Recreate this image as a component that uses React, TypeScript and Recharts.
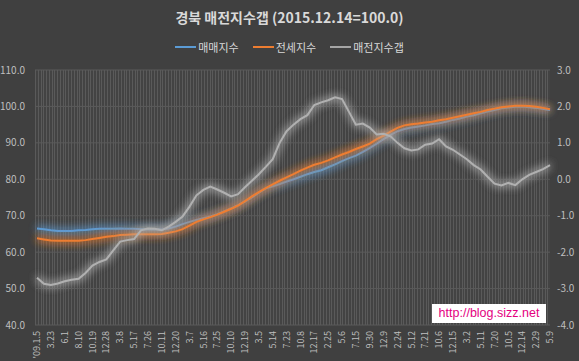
import { LineChart, Line, XAxis, YAxis, CartesianGrid } from "recharts";

// 주간 지수, 약 5주 간격으로 읽은 값
const xLabels = [
  "'09.1.5", "3.23", "6.1", "8.10", "10.19", "12.28", "3.8", "5.17", "7.26", "10.11",
  "12.20", "3.7", "5.16", "7.25", "10.10", "12.19", "3.5", "5.14", "7.23", "10.8",
  "12.17", "2.25", "5.6", "7.15", "9.30", "12.9", "2.24", "5.12", "7.21", "10.6",
  "12.15", "3.2", "5.11", "7.20", "10.5", "12.14", "2.29", "5.9",
];

const saleIndex = [
  66.5, 66.3, 66.0, 65.8, 65.8, 65.8, 66.0, 66.1, 66.3, 66.4,
  66.4, 66.4, 66.5, 66.4, 66.4, 66.3, 66.2, 66.2, 66.2, 66.5,
  67.0, 67.7, 68.3, 68.8, 69.3, 69.8, 70.4, 71.2, 72.0, 72.9,
  73.9, 75.0, 76.3, 77.5, 78.1, 78.7, 79.4, 80.0, 80.7, 81.4,
  82.0, 82.5, 83.3, 84.1, 85.0, 85.8, 86.5, 87.5, 88.6, 89.8,
  91.0, 92.2, 93.2, 93.8, 94.2, 94.5, 94.8, 95.2, 95.4, 95.8,
  96.3, 96.7, 97.2, 97.6, 98.1, 98.6, 99.0, 99.5, 99.7, 99.9,
  100.0, 99.8, 99.6, 99.3, 99.0,
];

const jeonseIndex = [
  63.8, 63.5, 63.2, 63.1, 63.1, 63.1, 63.1, 63.3, 63.6, 63.9,
  64.2, 64.4, 64.7, 64.8, 64.9, 64.9, 64.9, 64.9, 65.0, 65.3,
  65.7, 66.3, 67.3, 68.3, 69.0, 69.6, 70.3, 71.1, 71.9, 72.8,
  74.0, 75.3, 76.5, 77.6, 78.6, 79.6, 80.5, 81.4, 82.4, 83.2,
  84.0, 84.5, 85.2, 86.0, 86.8, 87.5, 88.3, 89.0, 89.8, 91.0,
  92.0, 93.1, 94.1, 94.8, 95.1, 95.3, 95.6, 95.8, 96.2, 96.5,
  96.9, 97.3, 97.7, 98.1, 98.5, 99.0, 99.4, 99.8, 100.0, 100.2,
  100.2, 100.1, 99.9, 99.6, 99.2,
];

const gapIndex = [
  -2.7, -2.87, -2.9, -2.86, -2.8, -2.76, -2.73, -2.57, -2.37, -2.27,
  -2.2, -1.95, -1.71, -1.67, -1.64, -1.4, -1.35, -1.36, -1.4, -1.3,
  -1.17, -1.02, -0.75, -0.44, -0.29, -0.2, -0.28, -0.37, -0.47, -0.41,
  -0.22, -0.04, 0.14, 0.34, 0.55, 1.0, 1.32, 1.5, 1.65, 1.76,
  2.04, 2.11, 2.17, 2.25, 2.2, 1.85, 1.5, 1.53, 1.42, 1.23,
  1.25, 1.18, 1.0, 0.85, 0.79, 0.82, 0.95, 0.98, 1.1, 0.9,
  0.81, 0.68, 0.55, 0.39, 0.27, 0.07, -0.12, -0.17, -0.1, -0.16,
  0.0, 0.12, 0.2, 0.28, 0.39,
];

const leftTicks = [40, 50, 60, 70, 80, 90, 100, 110];
const rightTicks = [-4, -3, -2, -1, 0, 1, 2, 3];

const data = saleIndex.map((v, i) => ({
  i,
  sale: v,
  jeonse: jeonseIndex[i],
  gap: gapIndex[i],
}));

const legendItems = [
  { name: "매매지수", color: "#5b9bd5" },
  { name: "전세지수", color: "#ed7d31" },
  { name: "매전지수갭", color: "#a5a5a5" },
];

// 세로 격자 (엑셀식 촘촘한 눈금선)
const gridX: number[] = [];
for (let x = 35; x <= 550; x += 2.77) gridX.push(Math.round(x) + 0.5);

const XTick = ({ x, y, payload }: any) => (
  <g transform={`translate(${x},${y})`}>
    <text transform="rotate(-90)" textAnchor="end" dy="0.35em" fill="#bfbfbf" fontSize={9}>
      {xLabels[payload.value / 2]}
    </text>
  </g>
);

export default function App() {
  return (
    <div
      style={{
        position: "absolute",
        left: 0,
        top: 0,
        width: 579,
        height: 361,
        background: "#404040",
        fontFamily: "'Noto Sans CJK KR', 'Noto Sans', sans-serif",
      }}
    >
      <svg width={1} height={1} style={{ position: "absolute", left: 0, top: 0 }}>
        <defs>
          <filter id="glow" x="-50%" y="-50%" width="200%" height="200%">
            <feGaussianBlur in="SourceGraphic" stdDeviation="4.5" result="b" />
            <feComponentTransfer in="b" result="b2">
              <feFuncA type="linear" slope="2.4" />
            </feComponentTransfer>
            <feMerge>
              <feMergeNode in="b2" />
              <feMergeNode in="SourceGraphic" />
            </feMerge>
          </filter>
        </defs>
      </svg>
      <div
        style={{
          position: "absolute",
          top: 7,
          width: "100%",
          textAlign: "center",
          color: "#d9d9d9",
          fontSize: 14,
          fontWeight: 700,
        }}
      >
        경북 매전지수갭 (2015.12.14=100.0)
      </div>
      <div
        style={{
          position: "absolute",
          top: 39,
          width: "100%",
          display: "flex",
          justifyContent: "center",
          gap: 14,
          color: "#d9d9d9",
          fontSize: 11,
        }}
      >
        {legendItems.map((it) => (
          <div key={it.name} style={{ display: "flex", alignItems: "center" }}>
            <span style={{ width: 21, height: 2, background: it.color, marginRight: 2 }} />
            {it.name}
          </div>
        ))}
      </div>

      <LineChart width={579} height={361} data={data} margin={{ top: 70, right: 0, bottom: 0, left: 0 }}>
        <CartesianGrid yAxisId="left" fill="#434343" stroke="#5a5a5a" verticalPoints={gridX} />
        <XAxis
          dataKey="i"
          type="number"
          domain={[0, 74]}
          ticks={xLabels.map((_, j) => j * 2)}
          tick={<XTick />}
          tickLine={false}
          axisLine={false}
          tickSize={0}
          tickMargin={6}
          height={36}
          interval={0}
          padding={{ left: 2, right: 0 }}
        />
        <YAxis
          yAxisId="left"
          domain={[40, 110]}
          ticks={leftTicks}
          tickFormatter={(v) => v.toFixed(1)}
          tick={{ fill: "#bfbfbf", fontSize: 10 }}
          tickLine={false}
          axisLine={false}
          tickSize={0}
          tickMargin={10}
          width={35}
        />
        <YAxis
          yAxisId="right"
          orientation="right"
          domain={[-4, 3]}
          ticks={rightTicks}
          tickFormatter={(v) => v.toFixed(1)}
          tick={{ fill: "#bfbfbf", fontSize: 10, textAnchor: "start" }}
          tickLine={false}
          axisLine={false}
          tickSize={0}
          tickMargin={7}
          width={29}
        />
        <Line yAxisId="left" dataKey="sale" stroke="#5b9bd5" strokeWidth={2} dot={false} isAnimationActive={false} style={{ filter: "url(#glow)" }} />
        <Line yAxisId="left" dataKey="jeonse" stroke="#ed7d31" strokeWidth={2} dot={false} isAnimationActive={false} style={{ filter: "url(#glow)" }} />
        <Line yAxisId="right" dataKey="gap" stroke="#b0b0b0" strokeWidth={2} dot={false} isAnimationActive={false} style={{ filter: "url(#glow)" }} />
      </LineChart>

      <div
        style={{
          position: "absolute",
          left: 432,
          top: 304,
          width: 114,
          height: 19,
          background: "#ffffff",
          color: "#e4007f",
          fontFamily: "'Liberation Sans', sans-serif",
          fontSize: 12.5,
          lineHeight: "19px",
          textAlign: "center",
        }}
      >
        http://blog.sizz.net
      </div>
    </div>
  );
}
